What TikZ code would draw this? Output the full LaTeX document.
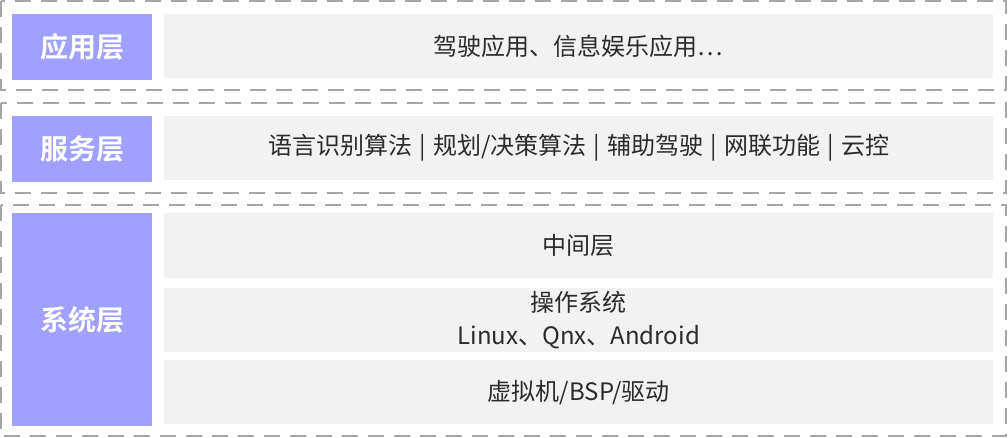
\documentclass[tikz,border=0pt]{standalone}
\usepackage{fontspec}
\setmainfont{Noto Sans CJK SC}[BoldFont={* Bold}]
\definecolor{labelfill}{HTML}{9FA0FF}
\definecolor{cellfill}{HTML}{F2F2F2}
\definecolor{dashcol}{HTML}{A6A6A6}
\definecolor{txt}{HTML}{2B2B2B}
\newcommand{\sepbar}{\hspace{0.3em}|\hspace{0.3em}}
\begin{document}
\begin{tikzpicture}[x=1pt,y=-1pt,
  layerbox/.style={draw=dashcol,line width=2pt,dash pattern=on 16pt off 10pt},
  labelbox/.style={fill=labelfill,draw=none,anchor=north west,inner sep=0pt,text=white,
    font=\fontsize{28}{32}\selectfont\bfseries},
  cellbox/.style={fill=cellfill,draw=none,anchor=north west,inner sep=0pt,text=txt,
    font=\fontsize{24}{33}\selectfont,align=center}]
\useasboundingbox (0,0) rectangle (1008,438);
% layer frames
\draw[layerbox] (1,1) rectangle (1006,90);
\draw[layerbox] (1,103) rectangle (1006,193);
\draw[layerbox] (1,205) rectangle (1006,436);
% application layer
\node[labelbox,minimum width=140pt,minimum height=66pt] (app) at (12,14) {应用层};
\node[cellbox,minimum width=829pt,minimum height=64pt] (appc) at (164,14) {驾驶应用、信息娱乐应用…};
% service layer
\node[labelbox,minimum width=140pt,minimum height=66pt] (svc) at (12,116) {服务层};
\node[cellbox,minimum width=829pt,minimum height=64pt] (svcc) at (164,116) {语言识别算法\sepbar 规划/决策算法\sepbar 辅助驾驶\sepbar 网联功能\sepbar 云控};
% system layer
\node[labelbox,minimum width=140pt,minimum height=213pt] (sys) at (12,213) {系统层};
\node[cellbox,minimum width=829pt,minimum height=65pt] (mid) at (164,213) {中间层};
\node[cellbox,minimum width=829pt,minimum height=64pt] (os) at (164,288) {操作系统\\Linux、Qnx、Android};
\node[cellbox,minimum width=829pt,minimum height=64pt] (vm) at (164,360) {虚拟机/BSP/驱动};
\end{tikzpicture}
\end{document}
